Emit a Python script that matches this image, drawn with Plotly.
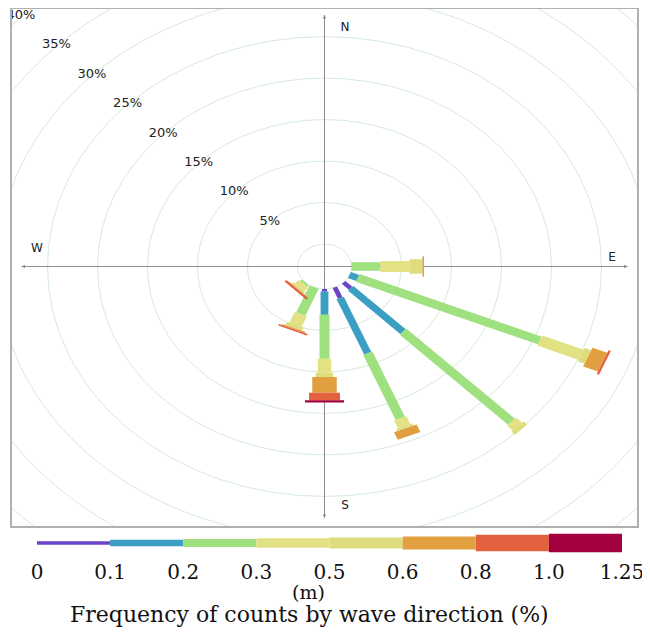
import math
import plotly.graph_objects as go

# ---------------- data ----------------
directions = ["E", "ESE", "SE", "SSE", "S", "SSW", "SW"]
direction_deg = [90.0, 112.5, 135.0, 157.5, 180.0, 202.5, 225.0]
bin_labels = ["0-0.1", "0.1-0.2", "0.2-0.3", "0.3-0.5", "0.5-0.6", "0.6-0.8", "0.8-1.0", "1.0-1.25"]
tick_labels = ["0", "0.1", "0.2", "0.3", "0.5", "0.6", "0.8", "1.0", "1.25"]

# frequency of counts (%) for each height bin, in direction order
freq_0_01 = [0.0, 0.0, 1.0, 1.4, 0.3, 0.0, 0.0]
freq_01_02 = [0.0, 0.9, 7.4, 7.2, 2.8, 0.0, 0.0]
freq_02_03 = [2.9, 19.7, 15.35, 8.5, 5.3, 3.5, 0.25]
freq_03_05 = [2.9, 4.5, 0.85, 1.0, 1.7, 1.4, 0.6]
freq_05_06 = [1.3, 0.7, 0.5, 0.3, 0.5, 0.4, 0.25]
freq_06_08 = [0.15, 1.6, 0.0, 1.0, 1.9, 0.15, 0.05]
freq_08_10 = [0.0, 0.25, 0.0, 0.0, 0.9, 0.2, 0.25]
freq_10_125 = [0.0, 0.0, 0.0, 0.0, 0.3, 0.0, 0.0]

ring_values = [0, 5, 10, 15, 20, 25, 30, 35, 40]
ring_labels = ["5%", "10%", "15%", "20%", "25%", "30%", "35%", "40%"]
cardinals = ["N", "E", "S", "W"]

series = [freq_0_01, freq_01_02, freq_02_03, freq_03_05,
          freq_05_06, freq_06_08, freq_08_10, freq_10_125]

# ---------------- style ----------------
W, H = 642, 624          # page body adds an 8px offset
HOLE = 2.7
bin_colors = ["#6a45c9", "#3b9fc3", "#9fe07f", "#e2e285",
              "#dedd7e", "#e1a040", "#e2613f", "#a3003f"]
bar_widths = [0.5, 0.78, 1.0, 1.33, 1.75, 2.45, 3.1, 3.9]
legend_widths = [3.5, 6.5, 8, 9.5, 11, 13, 16.5, 18.5]
RING_COLOR = "#d6ebd6"
AXIS_COLOR = "#8c8c8c"
SANS = "DejaVu Sans"
SERIF = "DejaVu Serif"

fig = go.Figure()

# ---------------- bars (stacked radially) ----------------
cum = [HOLE] * len(directions)
for b, vals in enumerate(series):
    xs, ys = [], []
    w2 = bar_widths[b] / 2
    for i, v in enumerate(vals):
        r0 = cum[i]
        r1 = r0 + v
        cum[i] = r1
        if v <= 0:
            continue
        phi = math.radians(direction_deg[i])
        dx, dy = math.sin(phi), math.cos(phi)
        px, py = math.cos(phi), -math.sin(phi)
        pts = [(r0 * dx + w2 * px, r0 * dy + w2 * py),
               (r1 * dx + w2 * px, r1 * dy + w2 * py),
               (r1 * dx - w2 * px, r1 * dy - w2 * py),
               (r0 * dx - w2 * px, r0 * dy - w2 * py)]
        pts.append(pts[0])
        xs += [p[0] for p in pts] + [None]
        ys += [p[1] for p in pts] + [None]
    fig.add_trace(go.Scatter(x=xs, y=ys, mode="lines", fill="toself",
                             fillcolor=bin_colors[b], line=dict(width=0, color=bin_colors[b]),
                             name=bin_labels[b], hoverinfo="skip", xaxis="x", yaxis="y"))

# ---------------- rings & axes ----------------
shapes = []
for rv in ring_values:
    r = HOLE + rv
    shapes.append(dict(type="circle", xref="x", yref="y", x0=-r, x1=r, y0=-r, y1=r,
                       line=dict(color=RING_COLOR, width=1), layer="below"))
L = 30.3
shapes.append(dict(type="line", xref="x", yref="y", x0=0, x1=0, y0=-L, y1=L,
                   line=dict(color=AXIS_COLOR, width=1), layer="below"))
shapes.append(dict(type="line", xref="x", yref="y", x0=-L, x1=L, y0=0, y1=0,
                   line=dict(color=AXIS_COLOR, width=1), layer="below"))

annotations = []
for (tx, ty, ax, ay) in [(0, L, 0, L - 1), (0, -L, 0, -L + 1), (L, 0, L - 1, 0), (-L, 0, -L + 1, 0)]:
    annotations.append(dict(x=tx, y=ty, ax=ax, ay=ay, xref="x", yref="y", axref="x", ayref="y",
                            text="", showarrow=True, arrowhead=2, arrowsize=0.7,
                            arrowwidth=1, arrowcolor=AXIS_COLOR))

# radial labels along the NW diagonal (clipped by the frame)
lab_x, lab_y = [], []
for rv in ring_values[1:]:
    lab_x.append(-(HOLE + rv * 1.006) / math.sqrt(2))
    lab_y.append((HOLE + rv) / math.sqrt(2))
fig.add_trace(go.Scatter(x=lab_x, y=lab_y, mode="text", text=ring_labels,
                         textfont=dict(family=SANS, size=13, color="#222222"),
                         cliponaxis=True, hoverinfo="skip", xaxis="x", yaxis="y"))

# cardinal labels
fig.add_trace(go.Scatter(x=[2.05, 28.75, 2.05, -28.75], y=[28.7, 1.0, -28.9, 2.1],
                         mode="text", text=cardinals,
                         textfont=dict(family=SANS, size=12, color="#222222"),
                         cliponaxis=True, hoverinfo="skip", xaxis="x", yaxis="y"))

# ---------------- colour-bar legend ----------------
for b in range(len(bin_labels)):
    fig.add_trace(go.Scatter(x=[b, b + 1], y=[0, 0], mode="lines",
                             line=dict(color=bin_colors[b], width=legend_widths[b]),
                             hoverinfo="skip", xaxis="x2", yaxis="y2"))

annotations.append(dict(x=300 / W, y=1 - 584 / H, xref="paper", yref="paper",
                        xanchor="center", yanchor="middle",
                        text="(m)", showarrow=False,
                        font=dict(family=SERIF, size=19, color="#111111")))
annotations.append(dict(x=301 / W, y=1 - 606 / H, xref="paper", yref="paper",
                        xanchor="center", yanchor="middle",
                        text="Frequency of counts by wave direction (%)", showarrow=False,
                        font=dict(family=SERIF, size=22, color="#111111")))

# main plot: pixel box (figure coords) x 4..629, y 1.5..518, centre at (316.5, 258.5)
top_px, bot_px, cy_px, ys_px = 1.0, 518.0, 258.5, 8.3
fig.update_layout(
    width=W, height=H,
    margin=dict(l=0, r=0, t=0, b=0, pad=0, autoexpand=False),
    paper_bgcolor="white", plot_bgcolor="white",
    showlegend=False,
    shapes=shapes, annotations=annotations,
    xaxis=dict(domain=[4 / W, 629 / W], range=[-31.25, 31.25], automargin=False,
               showgrid=False, zeroline=False, showticklabels=False, ticks="",
               showline=True, mirror=True, linecolor="#b0b0b0", linewidth=1.5,
               fixedrange=True),
    yaxis=dict(domain=[1 - bot_px / H, 1 - top_px / H],
               range=[-(bot_px - cy_px) / ys_px, (cy_px - top_px) / ys_px], automargin=False,
               showgrid=False, zeroline=False, showticklabels=False, ticks="",
               showline=True, mirror=True, linecolor="#b0b0b0", linewidth=1.5,
               fixedrange=True),
    xaxis2=dict(domain=[29 / W, 614 / W], range=[0, 8], anchor="y2", automargin=False,
                tickvals=list(range(9)), ticktext=tick_labels, ticks="",
                showgrid=False, zeroline=False, showline=False,
                tickfont=dict(family=SERIF, size=20, color="#111111")),
    yaxis2=dict(domain=[1 - 550 / H, 1 - 520 / H], range=[-1, 1], anchor="x2",
                automargin=False, visible=False),
)

fig.write_html("out.html")
